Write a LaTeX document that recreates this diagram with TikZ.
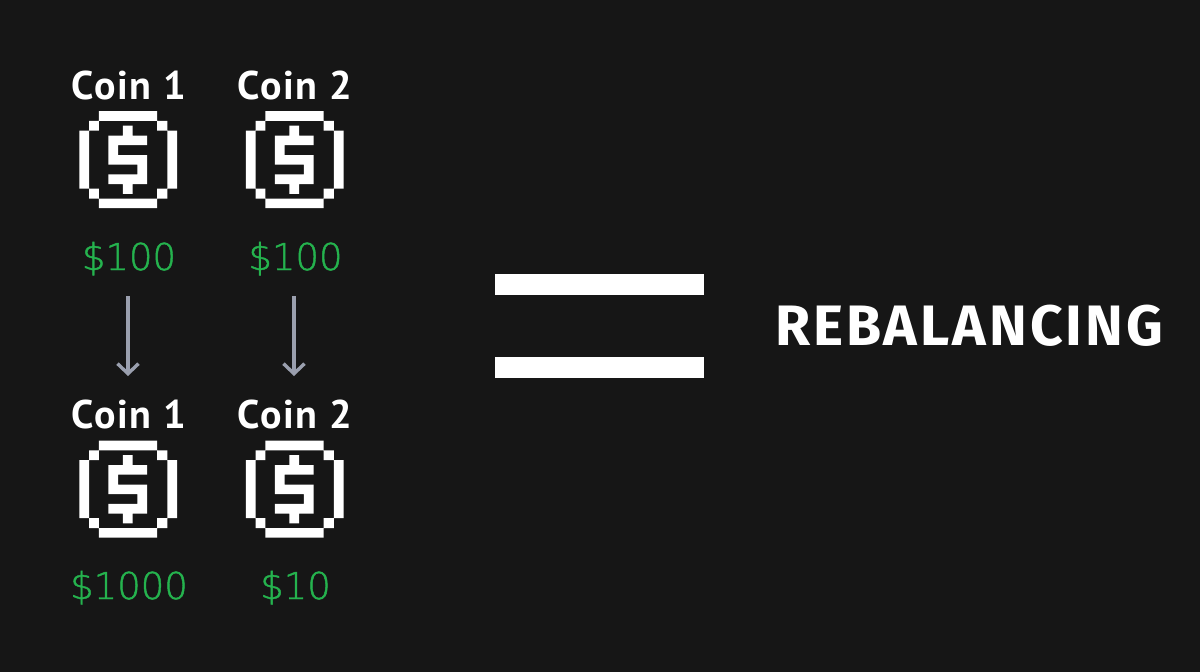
\documentclass[tikz,border=0pt]{standalone}
\usepackage{fontspec}
\usetikzlibrary{arrows.meta}
\setmainfont{PT Sans}[LetterSpace=4]
\newfontfamily\lightf[FakeBold=1.2]{DejaVu Sans ExtraLight}
\newfontfamily\titlef[LetterSpace=5.2]{Fira Sans Bold}
\definecolor{bgc}{HTML}{161616}
\definecolor{greenc}{HTML}{25B34E}
\definecolor{arrowc}{HTML}{9A9FAE}
\tikzset{
  coinname/.style={text=white,font=\fontsize{40}{40}\selectfont\bfseries,inner sep=0pt,outer sep=0pt,anchor=base,text height=52pt},
  amount/.style={text=greenc,font=\fontsize{37}{37}\lightf,inner sep=0pt,outer sep=0pt,anchor=base,text depth=26pt},
  flow/.style={draw=arrowc,line width=3.4pt,-{Straight Barb[length=10pt,width=21pt,line width=3.4pt]}},
  coinicon/.pic={
    \fill[white]
      (0,19.5) rectangle ++(9.8,58)
      (88,19.5) rectangle ++(9.8,58)
      (19.5,0) rectangle ++(58.2,9.8)
      (19.5,87.5) rectangle ++(58.2,9.7)
      (9.7,9.8) rectangle ++(9.8,9.8)
      (77.7,9.8) rectangle ++(10.3,9.8)
      (9.7,77.7) rectangle ++(9.8,9.8)
      (77.7,77.7) rectangle ++(10.3,9.8)
      (43.6,14.7) rectangle ++(9.6,9.8)
      (29,24.5) rectangle ++(38.7,9.7)
      (29,34) rectangle ++(9.7,19.5)
      (29,44) rectangle ++(38.7,9.7)
      (58,53.5) rectangle ++(9.7,19.5)
      (29,63.3) rectangle ++(38.7,9.7)
      (43.6,73) rectangle ++(9.6,9.8);
  }
}
\begin{document}
\begin{tikzpicture}[x=1pt,y=-1pt]
\useasboundingbox (0,0) rectangle (1200,672);
\fill[bgc] (0,0) rectangle (1200,672);
\node[coinname] (c1) at (129,99) {Coin 1};
\node[coinname] (c2) at (295,99) {Coin 2};
\pic at (79.3,111) {coinicon};
\pic at (245.8,111) {coinicon};
\node[amount] (v1) at (129,270) {\$100};
\node[amount] (v2) at (295.5,270) {\$100};
\node[coinname] (c3) at (129,428) {Coin 1};
\node[coinname] (c4) at (295,428) {Coin 2};
\pic at (79.3,440.5) {coinicon};
\pic at (245.8,440.5) {coinicon};
\node[amount] (v3) at (129,599) {\$1000};
\node[amount] (v4) at (295.5,599) {\$10};
\draw[flow] ([xshift=-1pt]v1.south) -- ([xshift=-1pt]c3.north);
\draw[flow] ([xshift=-1.5pt]v2.south) -- ([xshift=-1pt]c4.north);
\fill[white] (495,273.7) rectangle (704,294.7);
\fill[white] (495,356.7) rectangle (704,377.7);
\node[text=white,inner sep=0pt,anchor=base,font=\fontsize{57}{57}\titlef] (r) at (969,345) {REBALANCING};
\end{tikzpicture}
\end{document}
